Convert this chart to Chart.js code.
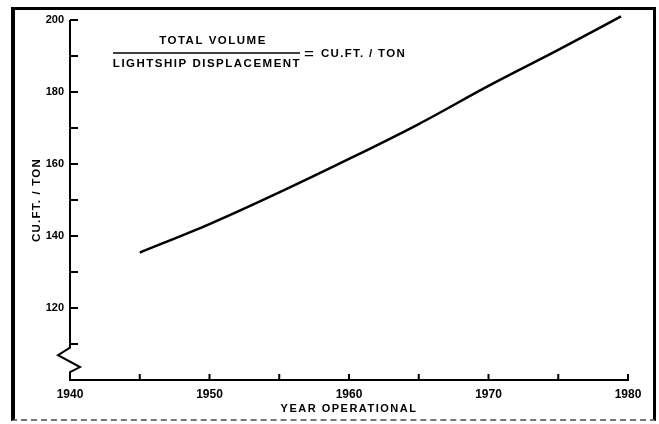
<!DOCTYPE html>
<html>
<head>
<meta charset="utf-8">
<script src="https://cdn.jsdelivr.net/npm/chart.js@4"></script>
<style>
  body { margin: 0; background: #fff; }
  #wrap { position: relative; width: 659px; height: 424px; }
  #frame {
    position: absolute; left: 11px; top: 7px; width: 638px; height: 409px;
    border-left: 4px solid #000; border-top: 3px solid #000;
    border-right: 3px solid #000; border-bottom: 2px dashed #777;
    pointer-events: none;
  }
</style>
</head>
<body>
<div id="wrap">
  <canvas id="myChart" width="659" height="424"></canvas>
  <div id="frame"></div>
</div>
<script>
    var years = [1945, 1950, 1955, 1960, 1965, 1970, 1975, 1979.5];
    var cuFtPerTon = [135.4, 143.3, 152.1, 161.4, 171.1, 181.7, 191.7, 201];
    var xTicks = [1940, 1945, 1950, 1955, 1960, 1965, 1970, 1975, 1980];
    var xLabels = [1940, 1950, 1960, 1970, 1980];
    var yTicks = [110, 120, 130, 140, 150, 160, 170, 180, 190, 200];
    var yLabels = [120, 140, 160, 180, 200];

    var FONT = '"Liberation Sans", Arial, sans-serif';

    function boldText(ctx, text, x, y, size, spacing, align) {
        ctx.font = 'bold ' + size + 'px ' + FONT;
        ctx.letterSpacing = spacing + 'px';
        ctx.textAlign = align || 'center';
        ctx.textBaseline = 'middle';
        ctx.fillText(text, x, y);
    }

    // axis line with break, inner ticks, titles and the formula
    var axisMarks = {
        id: 'axisMarks',
        afterDraw: function(chart) {
            var ctx = chart.ctx;
            var xs = chart.scales.x, ys = chart.scales.y;
            var x0 = xs.getPixelForValue(1940);
            var yb = ys.getPixelForValue(100);
            ctx.save();
            ctx.strokeStyle = '#000';
            ctx.lineWidth = 2;
            ctx.beginPath();
            ctx.moveTo(x0, ys.getPixelForValue(200));
            ctx.lineTo(x0, ys.getPixelForValue(109));
            ctx.lineTo(x0 - 12, ys.getPixelForValue(106.9));
            ctx.lineTo(x0 + 10, ys.getPixelForValue(103.6));
            ctx.lineTo(x0, ys.getPixelForValue(102.2));
            ctx.lineTo(x0, yb);
            ctx.stroke();

            ctx.beginPath();
            yTicks.forEach(function(v) {
                var y = ys.getPixelForValue(v);
                ctx.moveTo(x0, y);
                ctx.lineTo(x0 + 8, y);
            });
            xTicks.forEach(function(v) {
                if (v === 1940) return;
                var x = xs.getPixelForValue(v);
                ctx.moveTo(x, yb);
                ctx.lineTo(x, yb - 6);
            });
            ctx.stroke();

            ctx.fillStyle = '#000';
            // x title
            boldText(ctx, 'YEAR OPERATIONAL', (xs.left + xs.right) / 2, 409, 11, 1.5);
            // y title
            ctx.save();
            ctx.translate(37, (ys.top + ys.bottom) / 2);
            ctx.rotate(-Math.PI / 2);
            boldText(ctx, 'CU.FT. / TON', 0, 0, 11.5, 1.2);
            ctx.restore();

            // formula
            var L = chart.chartArea.left, T = chart.chartArea.top;
            boldText(ctx, 'TOTAL VOLUME', L + 143, T + 21, 11.5, 1.5);
            ctx.lineWidth = 1.5;
            ctx.beginPath();
            ctx.moveTo(L + 43, T + 33);
            ctx.lineTo(L + 230, T + 33);
            ctx.stroke();
            boldText(ctx, 'LIGHTSHIP DISPLACEMENT', L + 137, T + 44, 11.5, 1.5);
            ctx.font = '17px ' + FONT;
            ctx.letterSpacing = '0px';
            ctx.textAlign = 'left';
            ctx.fillText('=', L + 234, T + 34);
            boldText(ctx, 'CU.FT. / TON', L + 251, T + 34, 11.5, 1.3, 'left');
            ctx.restore();
        }
    };

    function loadChart() {
        const ctx = document.getElementById('myChart').getContext('2d');
        new Chart(ctx, {
            type: 'line',
            data: {
                datasets: [{
                    data: years.map(function(y, i) { return { x: y, y: cuFtPerTon[i] }; }),
                    borderColor: '#000',
                    borderWidth: 2.5,
                    pointRadius: 0,
                    cubicInterpolationMode: 'monotone',
                    fill: false,
                    clip: false
                }]
            },
            options: {
                responsive: false,
                animation: false,
                layout: { padding: { left: 0, top: 20, right: 31, bottom: 0 } },
                plugins: { legend: { display: false }, tooltip: { enabled: false } },
                scales: {
                    x: {
                        type: 'linear',
                        min: 1940,
                        max: 1980,
                        afterBuildTicks: function(s) { s.ticks = xTicks.map(function(v) { return { value: v }; }); },
                        afterFit: function(s) { s.height = 44; },
                        ticks: {
                            autoSkip: false,
                            maxRotation: 0,
                            padding: 7,
                            color: '#000',
                            font: { family: FONT, size: 12, weight: 'bold' },
                            callback: function(v) { return xLabels.indexOf(v) >= 0 ? String(v) : ''; }
                        },
                        grid: { display: false, drawTicks: false },
                        border: { display: true, color: '#000', width: 2 }
                    },
                    y: {
                        min: 100,
                        max: 200,
                        afterBuildTicks: function(s) { s.ticks = [100].concat(yTicks).map(function(v) { return { value: v }; }); },
                        afterFit: function(s) { s.width = 70; },
                        ticks: {
                            padding: 6,
                            color: '#000',
                            font: { family: FONT, size: 11, weight: 'bold' },
                            callback: function(v) { return yLabels.indexOf(v) >= 0 ? String(v) : ''; }
                        },
                        grid: { display: false, drawTicks: false },
                        border: { display: false }
                    }
                }
            },
            plugins: [axisMarks]
        });
    }

    loadChart();
</script>
</body>
</html>
